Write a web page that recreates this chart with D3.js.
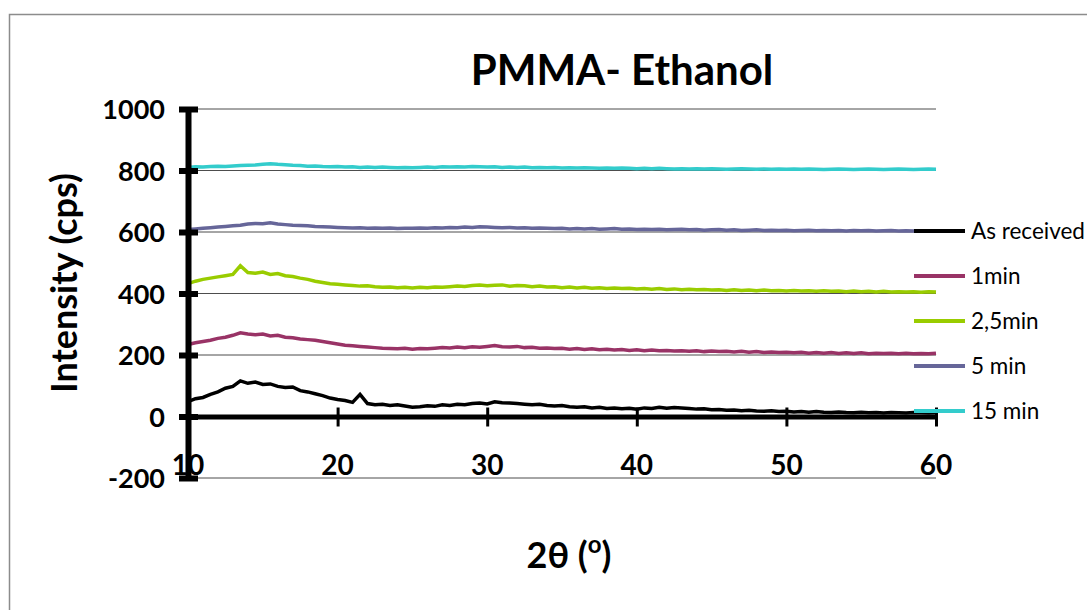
<!DOCTYPE html>
<html>
<head>
<meta charset="utf-8">
<script src="https://cdn.jsdelivr.net/npm/d3@7"></script>
<style>
  html, body { margin: 0; padding: 0; background: #fff; }
  svg { display: block; }
</style>
</head>
<body>
<svg id="chart" width="1087" height="610"></svg>
<script>
// ---- data ----
const title = "PMMA- Ethanol";
const seriesNames = ["As received", "1min", "2,5min", "5 min", "15 min"];
const seriesColors = ["#000000", "#993366", "#99cc00", "#666699", "#33cccc"];
const xTicks = [10, 20, 30, 40, 50, 60];
const yTicks = [-200, 0, 200, 400, 600, 800, 1000];
const twoTheta = d3.range(10, 60.25, 0.5);

const asReceived = [48,58,62,72,80,92,98,116,108,112,104,106,98,94,96,84,80,74,68,60,
  55,52,46,72,42,38,40,36,38,34,30,32,35,33,38,36,40,38,42,44,
  41,48,45,44,42,40,38,40,36,34,36,32,30,32,28,30,26,28,25,27,
  24,28,26,30,27,29,28,26,24,25,22,23,20,21,19,20,18,17,19,16,
  17,15,16,14,16,14,13,15,13,12,14,12,13,11,13,12,11,13,12,11,12];
const min1 = [234,240,244,248,254,258,264,272,268,266,268,262,264,258,256,252,250,248,244,240,
  236,232,230,228,226,224,222,221,220,222,219,221,220,222,224,223,226,224,227,225,
  228,231,227,226,228,224,225,222,223,221,222,219,221,218,220,217,219,216,218,215,
  217,214,216,214,215,213,214,212,214,211,213,211,212,210,212,209,211,208,210,208,
  209,207,209,206,208,206,208,205,207,205,207,204,206,205,206,204,206,204,205,204,206];
const min2_5 = [432,440,446,450,454,458,462,490,468,466,470,462,465,458,455,450,446,440,436,432,
  430,428,426,424,425,422,420,421,419,420,418,420,419,421,420,422,424,423,426,428,
  425,427,428,424,426,425,422,424,421,422,419,421,418,420,417,419,416,418,416,417,
  415,416,414,416,413,415,412,414,412,413,411,412,410,412,410,411,409,411,409,410,
  408,410,408,409,407,409,407,408,406,408,406,407,405,407,405,406,405,406,404,406,405];
const min5 = [608,610,612,614,616,618,620,622,626,628,627,630,626,624,622,621,620,618,617,616,
  615,614,613,614,612,613,612,613,611,612,612,613,612,614,613,615,614,616,615,617,
  616,615,614,615,613,614,612,613,612,611,612,610,611,610,611,609,610,611,609,610,
  608,609,608,609,607,608,609,607,608,606,607,608,606,607,605,606,607,605,606,605,
  606,604,605,606,604,605,604,605,603,605,604,605,603,604,605,603,604,603,604,603,604];
const min15 = [810,812,811,813,814,813,815,816,817,818,820,822,820,819,817,816,814,815,813,812,
  813,811,812,810,811,810,811,810,809,810,809,810,811,810,812,811,812,811,813,812,
  811,812,810,811,810,811,809,810,809,810,808,809,808,809,808,807,808,807,808,807,
  806,807,806,807,806,805,806,805,806,805,806,805,804,805,806,805,804,805,804,805,
  804,805,804,805,804,803,804,805,804,803,804,805,804,803,804,805,804,803,804,805,804];
const seriesValues = [asReceived, min1, min2_5, min5, min15];

// ---- layout ----
const svg = d3.select("#chart");
const W = 1087, H = 610;
const x = d3.scaleLinear().domain([10, 60]).range([188, 936]);
const y = d3.scaleLinear().domain([-200, 1000]).range([478, 109]);
const FONT = "Lato, 'Open Sans', sans-serif";

svg.append("rect").attr("x", 9.5).attr("y", 14.5).attr("width", W + 20).attr("height", H + 20)
  .attr("fill", "#fff").attr("stroke", "#8c8c8c").attr("stroke-width", 1.5);

// gridlines
svg.append("g").selectAll("line").data(yTicks).join("line")
  .attr("x1", x(10)).attr("x2", x(60))
  .attr("y1", d => y(d)).attr("y2", d => y(d))
  .attr("stroke", "#4d4d4d").attr("stroke-width", 1);

// series
const line = d3.line().x((d, i) => x(twoTheta[i])).y(d => y(d));
svg.append("g").selectAll("path").data(seriesValues).join("path")
  .attr("d", d => line(d))
  .attr("fill", "none")
  .attr("stroke", (d, i) => seriesColors[i])
  .attr("stroke-width", 3.5)
  .attr("stroke-linejoin", "miter");

// x axis at y=0
const xAxis = d3.axisBottom(x).tickValues(xTicks).tickSize(0).tickFormat("");
const gx = svg.append("g").attr("transform", `translate(0,${y(0)})`).call(xAxis);
gx.select(".domain").attr("stroke", "#000").attr("stroke-width", 5);
gx.selectAll(".tick").append("line").attr("y1", -9).attr("y2", 10)
  .attr("stroke", "#000").attr("stroke-width", 3);

// x tick labels near bottom
svg.append("g").selectAll("text").data(xTicks).join("text")
  .attr("x", d => x(d)).attr("y", 475)
  .attr("text-anchor", "middle")
  .attr("font-family", FONT).attr("font-weight", "bold").attr("font-size", 28)
  .text(d => d);

// y axis
const yAxis = d3.axisLeft(y).tickValues(yTicks).tickSize(0).tickPadding(23)
  .tickFormat(d => String(d));
const gy = svg.append("g").attr("transform", `translate(${x(10)},0)`).call(yAxis);
gy.select(".domain").attr("stroke", "#000").attr("stroke-width", 6);
gy.selectAll(".tick line").remove();
gy.selectAll(".tick").append("line").attr("x1", -9).attr("x2", 10)
  .attr("stroke", "#000").attr("stroke-width", 6);
gy.selectAll(".tick text")
  .attr("font-family", FONT).attr("font-weight", "bold").attr("font-size", 27)
  .attr("fill", "#000").attr("dy", "0.36em");

// title
svg.append("text").attr("x", 622).attr("y", 85).attr("text-anchor", "middle")
  .attr("font-family", FONT).attr("font-weight", "bold").attr("font-size", 42)
  .text(title);

// y label
svg.append("text").attr("transform", "translate(77,283) rotate(-90)")
  .attr("text-anchor", "middle")
  .attr("font-family", FONT).attr("font-weight", "bold").attr("font-size", 36)
  .text("Intensity (cps)");

// x label
const xl = svg.append("text").attr("x", 569).attr("y", 568).attr("text-anchor", "middle")
  .attr("font-family", FONT).attr("font-weight", "bold").attr("font-size", 36);
xl.append("tspan").text("2θ (");
xl.append("tspan").attr("font-size", 24).attr("dy", -15).text("o");
xl.append("tspan").attr("dy", 15).text(")");

// legend
const legendY = [231, 276, 321, 366, 411];
const lg = svg.append("g").selectAll("g").data(seriesNames).join("g")
  .attr("transform", (d, i) => `translate(914,${legendY[i]})`);
lg.append("line").attr("x1", 0).attr("x2", 51)
  .attr("stroke", (d, i) => seriesColors[i]).attr("stroke-width", 4);
lg.append("text").attr("x", 57).attr("dy", "0.35em")
  .attr("font-family", FONT).attr("font-size", 22.5).attr("fill", "#000")
  .text(d => d);
</script>
</body>
</html>
